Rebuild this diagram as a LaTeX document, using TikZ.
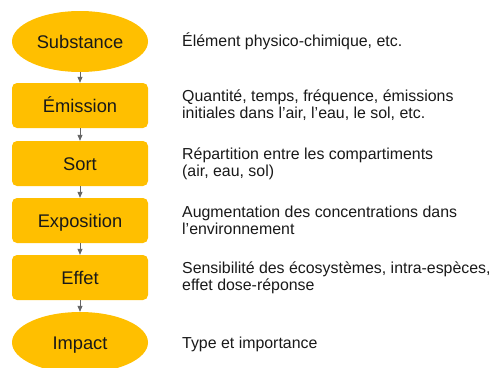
\documentclass[tikz,border=0pt]{standalone}
\usepackage{fontspec}
\setmainfont{Liberation Sans}
\usetikzlibrary{shapes.geometric,arrows.meta}
\definecolor{amber}{HTML}{FFBF00}
\definecolor{linkgray}{HTML}{666666}
\tikzset{
  stagetext/.style={font=\fontsize{18.3}{22}\selectfont,
    text height=13.1pt, text depth=0pt, text=black!90},
  stepbox/.style={stagetext, draw=none, fill=amber, rounded corners=5pt,
    minimum width=136pt, minimum height=45pt, inner sep=0pt},
  endpoint/.style={stagetext, ellipse, draw=none, fill=amber,
    minimum width=136pt, minimum height=61pt, inner sep=0pt},
  note/.style={anchor=west, align=left, inner sep=0pt, text=black!90,
    font=\fontsize{15.9}{17.3}\selectfont},
  oneline/.style={note, anchor=base west},
  link/.style={draw=linkgray, line width=0.8pt,
    -{Triangle[length=6pt,width=5pt]}}
}
\begin{document}
\begin{tikzpicture}[x=1pt,y=-1pt]
  \clip (0,0) rectangle (492,367);
  \useasboundingbox (0,0) rectangle (492,367);

  % chain of stages
  \node[endpoint] (subst) at (80,41.5)  {Substance};
  \node[stepbox]  (emis)  at (80,105.5) {Émission};
  \node[stepbox]  (sort)  at (80,163.5) {Sort};
  \node[stepbox]  (expo)  at (80,220.5) {Exposition};
  \node[stepbox]  (eff)   at (80,277.5) {Effet};
  \node[endpoint] (imp)   at (80,342.5) {Impact};

  % arrows between stages
  \draw[link] (subst) -- (emis);
  \draw[link] (emis) -- (sort);
  \draw[link] (sort) -- (expo);
  \draw[link] (expo) -- (eff);
  \draw[link] (eff) -- (imp);

  % descriptions
  \node[oneline] (d1) at (182,46.8) {Élément physico-chimique, etc.};
  \node[note] (d2) at (182,105.5) {Quantité, temps, fréquence, émissions\\initiales dans l’air, l’eau, le sol, etc.};
  \node[note] (d3) at (182,163.5) {Répartition entre les compartiments\\(air, eau, sol)};
  \node[note] (d4) at (182,220.5) {Augmentation des concentrations dans\\l’environnement};
  \node[note] (d5) at (182,277.5) {Sensibilité des écosystèmes, intra-espèces,\\effet dose-réponse};
  \node[oneline] (d6) at (182,348.2) {Type et importance};
\end{tikzpicture}
\end{document}
